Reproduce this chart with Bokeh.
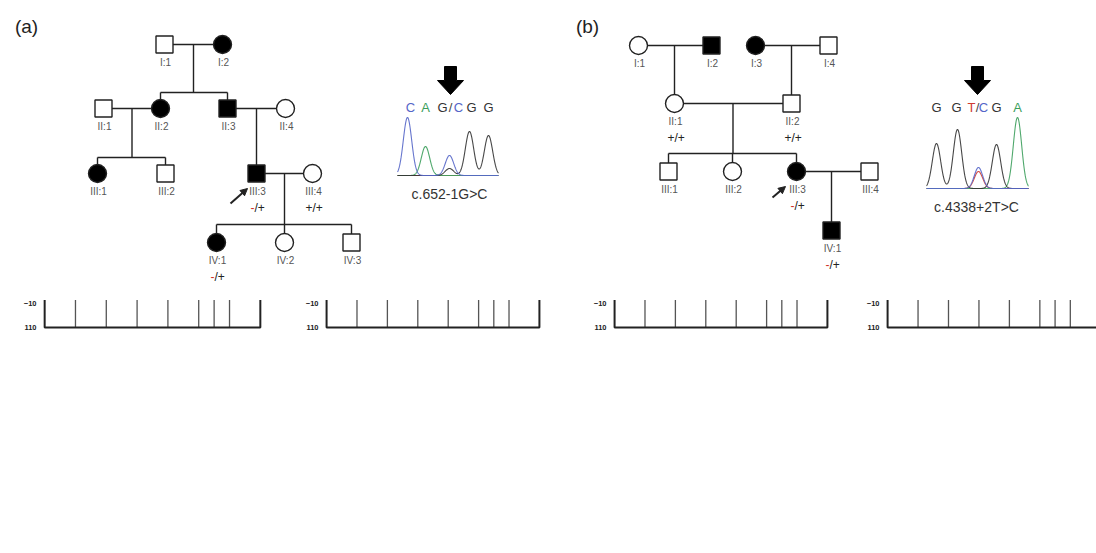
import numpy as np
from bokeh.plotting import figure
from bokeh.layouts import row
from bokeh.models import Range1d, FixedTicker, Legend, LegendItem, Label, Arrow, NormalHead
from bokeh.embed import file_html
from bokeh.resources import INLINE

nan = float("nan")

# ------------------------------------------------------------------ data
freq_labels = [".125", ".250", ".5", "1", "2", "4", "6", "8"]
db_ticks = list(range(-10, 111, 10))

# (c) family F1 - right ear (open circles)
c_R_iii3_34 = [20, 30, 38, 49, 45, 40, 54, 70]
c_R_iii3_37 = [24, 32, 33, 52, 44, 37, 52, 68]
c_R_iv1_48 = [nan, 32, 33, 40, 43, 50, 56, 68]
c_R_iv1_53 = [30, 31, 26, 26, 40, 57, 65, 80]
c_R_iv1_58 = [nan, 25, 22, 20, 40, 56, 58, 60]
c_R_iv1_69 = [nan, 30, 27, 20, 40, 60, 65, 70]
# (c) family F1 - left ear (crosses)
c_L_iii3_34 = [27, 31, 40, 40, 40, 30, 48, 58]
c_L_iii3_37 = [21, 33, 37, 41, 36, 29, 49, 59]
c_L_iv1_48 = [nan, 35, 36, 36, 47, 56, 71, nan]
c_L_iv1_53 = [29, 32, 30, 30, 48, 57, 65, 73]
c_L_iv1_58 = [nan, 28, 29, 23, 47, 56, 60, 62]
c_L_iv1_69 = [nan, 23, 22, 14, 46, 54, 60, 65]
c_legend = ["F1, III:3, 34 y", "F1, IV:1, 4.8 y", "F1, IV:1, 5.8 y",
            "F1, III:3, 37 y", "F1, IV:1, 5.3 y", "F1, IV:1, 6.9 y"]

# (d) family F2
d_R_iii3_28 = [20, 20, 20, 35, 50, 50, 40, 40]
d_R_iv1_12 = [nan, 36, 36, 31, 60, nan, nan, nan]
d_L_iii3_28 = [19, 20, 21, 37, 50, 51, 42, 48]
d_L_iv1_12 = [nan, 35, 34, 30, 50, nan, nan, nan]
d_legend_R = ["F2, III:3, 28 y", "F2, IV:1,1.2 y"]
d_legend_L = ["F2, III:3, 28 y", "F2, IV:1, 1.2 y"]

# pedigree (a)
ped_a_ids = ["I:1", "I:2", "II:1", "II:2", "II:3", "II:4", "III:1", "III:2",
             "III:3", "III:4", "IV:1", "IV:2", "IV:3"]
ped_a_sex = ["M", "F", "M", "F", "M", "F", "F", "M", "M", "F", "F", "F", "M"]
ped_a_aff = [0, 1, 0, 1, 1, 0, 1, 0, 1, 0, 1, 0, 0]
ped_a_geno = ["", "", "", "", "", "", "", "", "-/+", "+/+", "-/+", "", ""]
ped_a_couples = [("I:1", "I:2"), ("II:1", "II:2"), ("II:3", "II:4"), ("III:3", "III:4")]
ped_a_children = [["II:2", "II:3"], ["III:1", "III:2"], ["III:3"], ["IV:1", "IV:2", "IV:3"]]
# pedigree (b)
ped_b_ids = ["I:1", "I:2", "I:3", "I:4", "II:1", "II:2", "III:1", "III:2",
             "III:3", "III:4", "IV:1"]
ped_b_sex = ["F", "M", "F", "M", "F", "M", "M", "F", "F", "M", "M"]
ped_b_aff = [0, 1, 1, 0, 0, 0, 0, 0, 1, 0, 1]
ped_b_geno = ["", "", "", "", "+/+", "+/+", "", "", "-/+", "", "-/+"]
ped_b_couples = [("I:1", "I:2"), ("I:3", "I:4"), ("II:1", "II:2"), ("III:3", "III:4")]
ped_b_children = [["II:1"], ["II:2"], ["III:1", "III:2", "III:3"], ["IV:1"]]

# chromatograms
chrom_a_calls = ["C", "A", "G", "/", "C", "G", "G"]
chrom_a_peak_base = ["C", "A", "C", "G", "G", "G"]
chrom_a_peak_h = [58, 29, 20, 7, 44, 40]
chrom_a_name = "c.652-1G>C"
chrom_b_calls = ["G", "G", "T", "/", "C", "G", "A"]
chrom_b_peak_base = ["G", "G", "T", "C", "G", "A"]
chrom_b_peak_h = [45, 59, 17, 21, 44, 71]
chrom_b_name = "c.4338+2T>C"

# ------------------------------------------------------------------ layout / style
INK = "#222222"
base_col = {"A": "#3c9e5c", "C": "#5566c8", "G": "#333333", "T": "#d03a30", "/": "#444444"}

ped_a_x = [164, 222, 103, 160, 227, 285, 97, 165, 256, 312, 216, 284, 351]
ped_a_gen_y = {"I": 44, "II": 108, "III": 173, "IV": 242}
ped_a_sib_y = [92, 157, None, 224]
ped_a_arrow = (230, 203, 247, 188)
ped_b_x = [638, 711, 755, 828, 674, 791, 668, 732, 796, 869, 831]
ped_b_gen_y = {"I": 45, "II": 103, "III": 171, "IV": 230}
ped_b_sib_y = [None, None, 153, None]
ped_b_arrow = (772, 197, 785, 186)

chrom_a_call_x = [410, 425, 442, 450, 458, 471, 488]
chrom_a_peak_x = [407, 425, 449, 449, 469, 488]
chrom_a_base = (397, 498, 175)
chrom_b_call_x = [936, 956, 971, 977, 983, 996, 1017]
chrom_b_peak_x = [936, 957, 978, 978, 996, 1017]
chrom_b_base = (926, 1028, 188)

top = figure(width=1096, height=300, x_range=Range1d(0, 1096), y_range=Range1d(300, 0),
             output_backend="svg", toolbar_location=None, x_axis_location=None,
             y_axis_location=None, min_border=0)
top.outline_line_color = "white"
top.xgrid.grid_line_color = "white"
top.ygrid.grid_line_color = "white"

HS = 8.5  # half symbol size


def draw_pedigree(p, ids, sex, aff, geno, couples, children, xs, gen_y, sib_y, arrow):
    pos = {}
    for i, name in enumerate(ids):
        pos[name] = (xs[i], gen_y[name.split(":")[0]])
    sx, sy = [], []
    for k, (a, b) in enumerate(couples):
        (xa, ya), (xb, yb) = pos[a], pos[b]
        l, r = sorted([xa, xb])
        sx.append([l + HS, r - HS]); sy.append([ya, ya])
        mid = (xa + xb) / 2
        kids = children[k]
        if len(kids) == 1:
            cx, cy = pos[kids[0]]
            sx.append([cx, cx]); sy.append([ya, cy - HS])
        else:
            s = sib_y[k]
            sx.append([mid, mid]); sy.append([ya, s])
            kx = [pos[c][0] for c in kids]
            sx.append([min(kx), max(kx)]); sy.append([s, s])
            for c in kids:
                cx, cy = pos[c]
                sx.append([cx, cx]); sy.append([s, cy - HS])
    p.multi_line(sx, sy, line_color=INK, line_width=1.4)
    for shape, marker, sz in (("M", "square", 17), ("F", "circle", 18)):
        sel = [i for i in range(len(ids)) if sex[i] == shape]
        p.scatter([pos[ids[i]][0] for i in sel], [pos[ids[i]][1] for i in sel], marker=marker,
                  size=sz, line_color=INK, line_width=1.4,
                  fill_color=["black" if aff[i] else "white" for i in sel])
    p.text([pos[n][0] + 1 for n in ids], [pos[n][1] + 18 for n in ids], text=ids,
           text_font_size="10px", text_color="#555555",
           text_align="center", text_baseline="middle")
    gx, gy, gt, rx, ry = [], [], [], [], []
    for i, n in enumerate(ids):
        g = geno[i]
        if not g:
            continue
        x, y = pos[n][0] + 1, pos[n][1] + 34
        if g.startswith("-"):
            rx.append(x - 3); ry.append(y)
            gx.append(x - 3); gy.append(y); gt.append(g[1:])
        else:
            gx.append(x - 8); gy.append(y); gt.append(g)
    p.text(gx, gy, text=gt, text_font_size="12px", text_color=INK,
           text_align="left", text_baseline="middle")
    p.text(rx, ry, text=["-"] * len(rx), text_font_size="12px",
           text_color="#d0302a", text_align="right", text_baseline="middle")
    x0, y0, x1, y1 = arrow
    p.add_layout(Arrow(end=NormalHead(size=7, fill_color=INK, line_color=INK),
                       x_start=x0, y_start=y0, x_end=x1, y_end=y1,
                       line_width=2, line_color=INK))


def draw_chrom(p, calls, call_x, peak_base, peak_h, peak_x, base, name):
    x0, x1, yb = base
    xs = np.linspace(x0, x1, 400)
    for b in ["T", "A", "G", "C"]:
        ys = np.full_like(xs, yb)
        for pb, h, px in zip(peak_base, peak_h, peak_x):
            if pb == b:
                ys = ys - h * np.exp(-((xs - px) ** 2) / (2 * 4.2 ** 2))
        p.line(xs, ys, line_color=base_col[b], line_width=1.1, line_alpha=0.9)
    p.text(call_x, [107] * len(calls), text=calls, text_font_size="13px",
           text_color=[base_col[c] for c in calls], text_align="center", text_baseline="middle")
    cx = call_x[3]
    p.patch([cx - 6, cx + 6, cx + 6, cx + 13, cx, cx - 13, cx - 6],
            [66, 66, 80, 80, 94, 80, 80], fill_color="black", line_color="black")
    p.text([cx - 1], [yb + 18], text=[name], text_font_size="14px",
           text_color="#333333", text_align="center", text_baseline="middle")


draw_pedigree(top, ped_a_ids, ped_a_sex, ped_a_aff, ped_a_geno, ped_a_couples,
              ped_a_children, ped_a_x, ped_a_gen_y, ped_a_sib_y, ped_a_arrow)
draw_pedigree(top, ped_b_ids, ped_b_sex, ped_b_aff, ped_b_geno, ped_b_couples,
              ped_b_children, ped_b_x, ped_b_gen_y, ped_b_sib_y, ped_b_arrow)
draw_chrom(top, chrom_a_calls, chrom_a_call_x, chrom_a_peak_base, chrom_a_peak_h,
           chrom_a_peak_x, chrom_a_base, chrom_a_name)
draw_chrom(top, chrom_b_calls, chrom_b_call_x, chrom_b_peak_base, chrom_b_peak_h,
           chrom_b_peak_x, chrom_b_base, chrom_b_name)
top.text([26, 587], [26, 26], text=["(a)", "(b)"],
         text_font_size="19px", text_color=INK, text_align="center", text_baseline="middle")

# ------------------------------------------------------------------ audiograms
idx = list(range(len(freq_labels)))
grid_x = [1, 2, 3, 4, 5, 5.5, 6]
grid_y = list(range(-10, 101, 10))


def audiogram(width, mbl, mbr, x_end, series, legend_labels, legend_colors, ncols,
              panel_label=None):
    p = figure(width=width, height=253, x_range=Range1d(-0.2, x_end), y_range=Range1d(111, -21),
               x_axis_location="above", output_backend="svg", toolbar_location=None,
               min_border_left=mbl, min_border_right=mbr, min_border_top=33,
               min_border_bottom=24)
    p.outline_line_color = "white"
    p.xgrid.grid_line_color = "white"
    p.ygrid.grid_line_color = "white"
    xa = p.xaxis[0]
    xa.ticker = FixedTicker(ticks=idx)
    xa.major_label_overrides = {i: lab for i, lab in zip(idx, freq_labels)}
    xa.axis_label = "Frequency (kHz)"
    ya = p.yaxis[0]
    ya.ticker = FixedTicker(ticks=db_ticks)
    ya.axis_label = "Hearing Threshold (dB)"
    for ax in (xa, ya):
        ax.axis_line_color = None
        ax.major_tick_line_color = None
        ax.minor_tick_line_color = None
        ax.major_tick_out = 0
        ax.major_tick_in = 0
        ax.minor_tick_out = 0
        ax.major_label_text_font_style = "bold"
        ax.major_label_text_font_size = "7.5px"
        ax.major_label_text_color = INK
        ax.major_label_standoff = 2
        ax.axis_label_text_font_style = "bold"
        ax.axis_label_text_font_size = "12.5px"
        ax.axis_label_text_color = INK
        ax.axis_label_standoff = 3
    gx = [g for g in grid_x if g < x_end]
    p.segment(x0=[0] * len(grid_y), y0=grid_y, x1=[7] * len(grid_y), y1=grid_y,
              line_color="#555555", line_width=1.3)
    p.segment(x0=gx, y0=[-20] * len(gx), x1=gx, y1=[110] * len(gx),
              line_color="#555555", line_width=1.3)
    p.line([7, 0, 0, 7, 7], [-20, -20, 110, 110, -20], line_color=INK, line_width=2)
    for vals, kind, mc, lc in series:
        p.line(idx, vals, line_color=lc, line_width=1.2)
    for vals, kind, mc, lc in series:
        if kind == "o":
            p.scatter(idx, vals, marker="circle", size=11, fill_color="white",
                      line_color=mc, line_width=2.5)
        elif kind == "x":
            p.scatter(idx, vals, marker="x", size=8, line_color=mc, line_width=1.6)
        else:
            p.rect(idx, vals, width=5, height=10, width_units="screen", height_units="screen",
                   fill_color=mc, line_color=mc)
    items = []
    for lab, c in zip(legend_labels, legend_colors):
        r = p.line([0, 1], [200, 200], line_color=c, line_width=3.5)
        items.append(LegendItem(label=lab, renderers=[r]))
    leg = Legend(items=items, orientation="horizontal", location="top_left",
                 label_text_font_size="10px", label_text_color=INK,
                 label_height=11, glyph_height=11, glyph_width=14, label_standoff=2,
                 spacing=3, padding=0, margin=0, border_line_color="white",
                 background_fill_color="white")
    if ncols > 1:
        leg.ncols = ncols
    p.add_layout(leg, "below")
    if panel_label:
        p.add_layout(Label(x=-0.58, y=-36.5, text=panel_label,
                           text_font_size="19px", text_color=INK, text_align="center",
                           text_baseline="middle"))
    return p


c_cols = ["#2e9a5a", "#6a449c", "#e3955b", "#3a73b4", "#a0a0a0", "#bf232b"]
c_R = [c_R_iii3_34, c_R_iv1_48, c_R_iv1_58, c_R_iii3_37, c_R_iv1_53, c_R_iv1_69]
c_L = [c_L_iii3_34, c_L_iv1_48, c_L_iv1_58, c_L_iii3_37, c_L_iv1_53, c_L_iv1_69]
f1 = audiogram(282, 37, 16, 7.2, [(v, "o", c, c) for v, c in zip(c_R, c_cols)],
               c_legend, c_cols, 3, "(c)")
f2 = audiogram(288, 34, 25, 7.2, [(v, "x", c, c) for v, c in zip(c_L, c_cols)],
               c_legend, c_cols, 3)
d_blue, d_blue_line, d_red = "#45a5dc", "#5b9cc8", "#c8302c"
f3 = audiogram(273, 34, 10, 7.2, [(d_R_iii3_28, "o", d_blue, d_blue_line),
                                  (d_R_iv1_12, "o", d_red, d_red)],
               d_legend_R, ["#4a80b8", d_red], 1, "(d)")
f4 = audiogram(253, 34, 0, 6.86, [(d_L_iii3_28, "x", d_blue, d_blue_line),
                                  (d_L_iv1_12, "b", d_red, d_red)],
               d_legend_L, ["#4a80b8", d_red], 1)

bottom = row(f1, f2, f3, f4)
open("out.html", "w").write(file_html([top, bottom], INLINE))
